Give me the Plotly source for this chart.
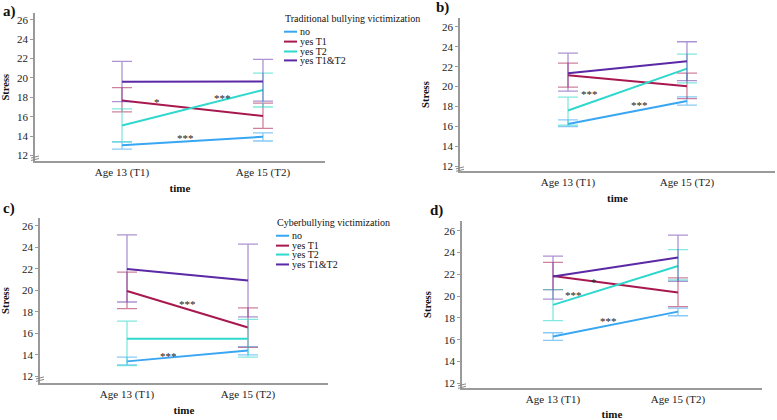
import plotly.graph_objects as go

times = ["Age 13 (T1)", "Age 15 (T2)"]
groups = ["no", "yes T1", "yes T2", "yes T1&T2"]
colors = ["#38a6f2", "#a8184f", "#2fd8cc", "#5b28a6"]
eb_colors = ["rgba(56,166,242,0.6)", "rgba(168,24,79,0.55)", "rgba(47,216,204,0.6)", "rgba(91,40,166,0.5)"]

# Panel a) Traditional bullying victimization - Stress (means, upper, lower)
a_mean = [[13.07, 13.93], [17.67, 16.07], [15.10, 18.76], [19.60, 19.62]]
a_hi = [[13.40, 14.33], [19.00, 17.40], [16.80, 20.50], [21.70, 21.90]]
a_lo = [[12.67, 13.50], [16.50, 14.80], [13.40, 17.00], [17.56, 17.60]]

# Panel b)
b_mean = [[16.26, 18.55], [21.13, 20.04], [17.60, 21.80], [21.35, 22.55]]
b_hi = [[16.66, 18.98], [22.36, 21.36], [18.95, 23.25], [23.35, 24.50]]
b_lo = [[16.00, 18.15], [19.94, 18.80], [16.13, 20.37], [19.54, 20.60]]

# Panel c) Cyberbullying victimization
c_mean = [[13.40, 14.40], [19.94, 16.55], [15.50, 15.50], [22.00, 20.92]]
c_hi = [[13.80, 14.77], [21.70, 18.37], [17.14, 17.30], [25.17, 24.30]]
c_lo = [[13.08, 14.00], [18.30, 14.70], [13.00, 13.80], [18.92, 17.54]]

# Panel d)
d_mean = [[16.30, 18.58], [21.85, 20.33], [19.20, 22.76], [21.80, 23.55]]
d_hi = [[16.64, 18.90], [23.10, 21.67], [20.60, 24.27], [23.67, 25.60]]
d_lo = [[15.94, 18.20], [20.60, 19.03], [17.76, 21.48], [19.73, 21.36]]

y_ticks = [12, 14, 16, 18, 20, 22, 24, 26]

# significance labels: (text, x position between times, y)
a_sig = [("*", 0.25, 17.8), ("***", 0.71, 18.2), ("***", 0.45, 14.1)]
b_sig = [("***", 0.18, 19.54), ("***", 0.60, 18.45)]
c_sig = [("***", 0.50, 19.0), ("***", 0.34, 14.15)]
d_sig = [("*", 0.33, 21.6), ("***", 0.16, 20.4), ("***", 0.44, 17.97)]

W, H = 777, 420
SERIF = "'Liberation Serif', 'Times New Roman', Times, 'DejaVu Serif', serif"

panels = [
    dict(name="a", mean=a_mean, hi=a_hi, lo=a_lo, sig=a_sig,
         px=(35, 325), py=(163, 13), xr=[-0.617, 1.44], yr=[11.39, 26.7]),
    dict(name="b", mean=b_mean, hi=b_hi, lo=b_lo, sig=b_sig,
         px=(460, 775), py=(173, 18), xr=[-0.908, 1.74], yr=[11.5, 26.9]),
    dict(name="c", mean=c_mean, hi=c_hi, lo=c_lo, sig=c_sig,
         px=(40, 328), py=(387, 220), xr=[-0.719, 1.661], yr=[11.36, 26.74]),
    dict(name="d", mean=d_mean, hi=d_hi, lo=d_lo, sig=d_sig,
         px=(462, 762), py=(392, 223), xr=[-0.728, 1.672], yr=[11.55, 26.9]),
]

fig = go.Figure()
layout = dict(
    width=W, height=H, margin=dict(l=0, r=0, t=0, b=0),
    paper_bgcolor="white", plot_bgcolor="white", showlegend=False,
    font=dict(family=SERIF, color="#222", size=10.5),
)
annotations = []
shapes = []

for i, p in enumerate(panels):
    k = "" if i == 0 else str(i + 1)
    xa, ya = "x" + k, "y" + k
    for g in range(4):
        m = p["mean"][g]
        hi = [h - v for h, v in zip(p["hi"][g], m)]
        lo = [v - l for v, l in zip(m, p["lo"][g])]
        fig.add_trace(go.Scatter(
            x=times, y=m, mode="lines", name=groups[g],
            line=dict(color=colors[g], width=2),
            error_y=dict(type="data", symmetric=False, array=hi, arrayminus=lo,
                         color=eb_colors[g], thickness=1.3, width=10),
            xaxis=xa, yaxis=ya,
        ))
    x0, x1 = p["px"]
    yb, yt = p["py"]
    layout["xaxis" + k] = dict(
        domain=[x0 / W, x1 / W], range=p["xr"], type="category",
        showline=True, linecolor="#9a9a9a", linewidth=1.5, ticks="",
        showgrid=False, zeroline=False, anchor=ya,
        tickfont=dict(family=SERIF, size=11, color="#222"),
        title=dict(text="<b>time</b>", font=dict(family=SERIF, size=11, color="#111"), standoff=6),
    )
    layout["yaxis" + k] = dict(
        domain=[1 - yb / H, 1 - yt / H], range=p["yr"],
        tickvals=y_ticks, showline=True, linecolor="#9a9a9a", linewidth=1.5,
        ticks="outside", ticklen=3, tickcolor="#9a9a9a", showgrid=False, zeroline=False,
        anchor=xa, tickfont=dict(family=SERIF, size=11, color="#222"),
        title=dict(text="<b>Stress</b>", font=dict(family=SERIF, size=10.5, color="#111"), standoff=10),
    )
    for txt, sx, sy in p["sig"]:
        annotations.append(dict(text=txt, x=sx, y=sy, xref=xa, yref=ya, showarrow=False,
                                yshift=-3, font=dict(family=SERIF, size=11, color="#222")))
    # axis break mark just below the lowest tick
    y12 = yb - (12 - p["yr"][0]) / (p["yr"][1] - p["yr"][0]) * (yb - yt)
    for dy in (1.5, 4.0):
        shapes.append(dict(type="line", xref="paper", yref="paper",
                           x0=(x0 - 4) / W, x1=(x0 + 4) / W,
                           y0=1 - (y12 + dy + 1) / H, y1=1 - (y12 + dy - 1) / H,
                           line=dict(color="#888", width=1)))

# panel letters
for lab, lx, ly in [("a)", 1, 12), ("b)", 434, 8), ("c)", 1, 211), ("d)", 428, 213)]:
    annotations.append(dict(text="<b>" + lab + "</b>", x=lx / W, y=1 - ly / H, xref="paper", yref="paper",
                            xanchor="left", yanchor="middle", showarrow=False,
                            font=dict(family=SERIF, size=15, color="#111")))

# legends
for title, tx, ty, rows, lx0, lx1 in [
    ("Traditional bullying victimization", 283, 19, [32, 42, 52, 61], 284, 297),
    ("Cyberbullying victimization", 275, 225, [238, 248, 257, 267], 276, 289),
]:
    annotations.append(dict(text=title, x=tx / W, y=1 - ty / H, xref="paper", yref="paper",
                            xanchor="left", yanchor="middle", showarrow=False,
                            font=dict(family=SERIF, size=10, color="#111")))
    for g, ry in enumerate(rows):
        shapes.append(dict(type="line", xref="paper", yref="paper",
                           x0=lx0 / W, x1=lx1 / W, y0=1 - ry / H, y1=1 - ry / H,
                           line=dict(color=colors[g], width=2)))
        annotations.append(dict(text=groups[g], x=(lx1 + 1) / W, y=1 - ry / H, xref="paper", yref="paper",
                                xanchor="left", yanchor="middle", showarrow=False,
                                font=dict(family=SERIF, size=10, color="#111")))

layout["annotations"] = annotations
layout["shapes"] = shapes
fig.update_layout(**layout)
fig.write_html("out.html")
